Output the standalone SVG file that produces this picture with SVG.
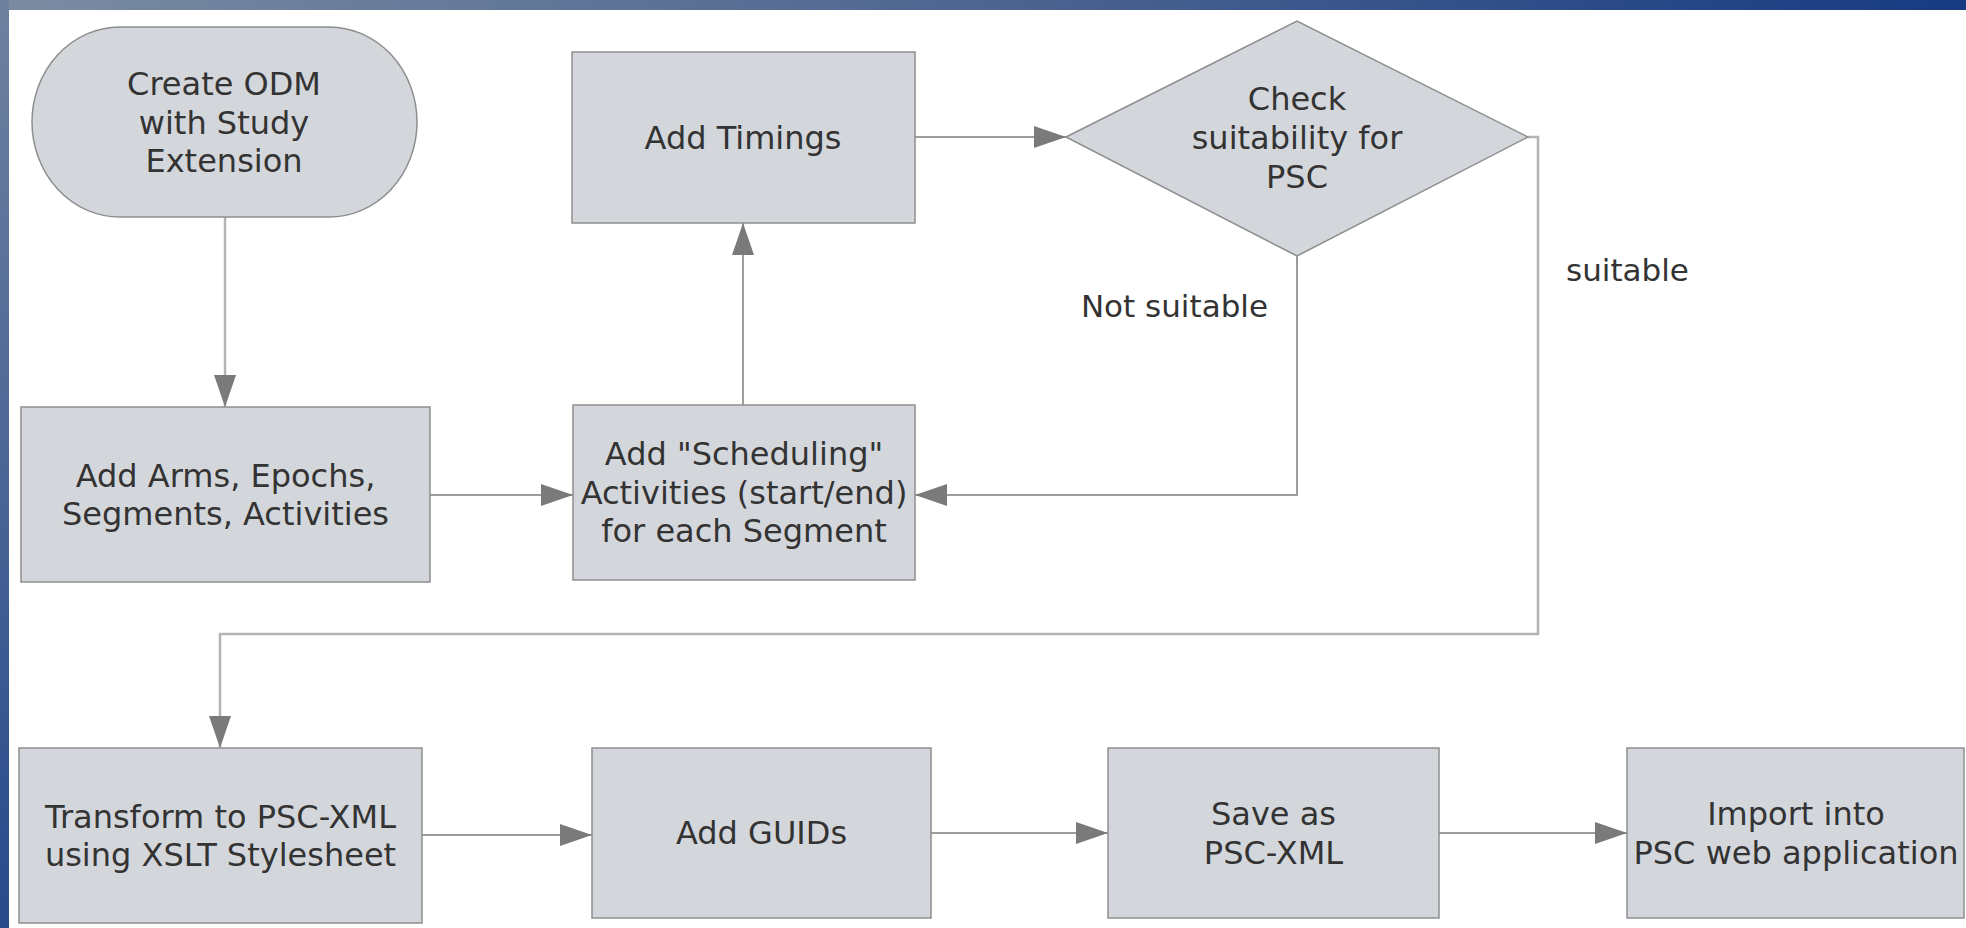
<svg xmlns="http://www.w3.org/2000/svg" width="1966" height="928" viewBox="0 0 1966 928">
  <defs>
    <linearGradient id="topband" x1="0" y1="0" x2="1" y2="0">
      <stop offset="0" stop-color="#7b8ba2"/>
      <stop offset="0.5" stop-color="#4d6590"/>
      <stop offset="1" stop-color="#173a82"/>
    </linearGradient>
    <linearGradient id="leftband" x1="0" y1="0" x2="0" y2="1">
      <stop offset="0" stop-color="#6f819f"/>
      <stop offset="1" stop-color="#274a8c"/>
    </linearGradient>
    <marker id="arrow" markerUnits="userSpaceOnUse" markerWidth="32" markerHeight="24" refX="32" refY="12" orient="auto">
      <path d="M0,1 L32,12 L0,23 z" fill="#7a7a7a"/>
    </marker>
    <style>
      .node { fill: #d3d7dc; stroke: #8e8e8e; stroke-width: 1.5; }
      .label { font-family: "DejaVu Sans", Verdana, sans-serif; font-size: 32px; fill: #333333; text-anchor: middle; }
      .edge { fill: none; stroke: #9c9c9c; stroke-width: 2; }
      .edge-light { fill: none; stroke: #b4b4b4; stroke-width: 2.5; }
      .elabel { font-family: "DejaVu Sans", Verdana, sans-serif; font-size: 31px; fill: #333333; }
    </style>
  </defs>

  <rect x="0" y="0" width="1966" height="928" fill="#ffffff"/>
  <rect x="0" y="0" width="1966" height="10" fill="url(#topband)"/>
  <rect x="0" y="0" width="9" height="928" fill="url(#leftband)"/>

  <g id="connectors">
    <path class="edge-light" d="M225,216 L225,407" marker-end="url(#arrow)"/>
    <path class="edge" d="M430,495 L573,495" marker-end="url(#arrow)"/>
    <path class="edge" d="M743,405 L743,223" marker-end="url(#arrow)"/>
    <path class="edge" d="M915,137 L1066,137" marker-end="url(#arrow)"/>
    <path class="edge" d="M1297,256 L1297,495 L915,495" marker-end="url(#arrow)"/>
    <path class="edge-light" d="M1528,137 L1538,137 L1538,634 L220,634 L220,748" marker-end="url(#arrow)"/>
    <path class="edge" d="M422,835 L592,835" marker-end="url(#arrow)"/>
    <path class="edge" d="M931,833 L1108,833" marker-end="url(#arrow)"/>
    <path class="edge" d="M1439,833 L1627,833" marker-end="url(#arrow)"/>
    <text class="elabel" x="1268" y="317" text-anchor="end">Not suitable</text>
    <text class="elabel" x="1566" y="281">suitable</text>
  </g>

  <g id="start">
    <rect class="node" x="32" y="27" width="385" height="190" rx="88" ry="95"/>
    <text class="label" x="224" y="95">Create ODM</text>
    <text class="label" x="224" y="133.5">with Study</text>
    <text class="label" x="224" y="172">Extension</text>
  </g>

  <g id="add-arms">
    <rect class="node" x="21" y="407" width="409" height="175"/>
    <text class="label" x="225.5" y="486.5">Add Arms, Epochs,</text>
    <text class="label" x="225.5" y="525">Segments, Activities</text>
  </g>

  <g id="scheduling">
    <rect class="node" x="573" y="405" width="342" height="175"/>
    <text class="label" x="744" y="465">Add "Scheduling"</text>
    <text class="label" x="744" y="503.5">Activities (start/end)</text>
    <text class="label" x="744" y="542">for each Segment</text>
  </g>

  <g id="add-timings">
    <rect class="node" x="572" y="52" width="343" height="171"/>
    <text class="label" x="743" y="148.5">Add Timings</text>
  </g>

  <g id="check">
    <polygon class="node" points="1066,137 1297,21 1528,137 1297,256"/>
    <text class="label" x="1297" y="110">Check</text>
    <text class="label" x="1297" y="149">suitability for</text>
    <text class="label" x="1297" y="187.5">PSC</text>
  </g>

  <g id="transform">
    <rect class="node" x="19" y="748" width="403" height="175"/>
    <text class="label" x="220.5" y="827.5">Transform to PSC-XML</text>
    <text class="label" x="220.5" y="866">using XSLT Stylesheet</text>
  </g>

  <g id="add-guids">
    <rect class="node" x="592" y="748" width="339" height="170"/>
    <text class="label" x="761.5" y="844">Add GUIDs</text>
  </g>

  <g id="save">
    <rect class="node" x="1108" y="748" width="331" height="170"/>
    <text class="label" x="1273.5" y="825">Save as</text>
    <text class="label" x="1273.5" y="863.5">PSC-XML</text>
  </g>

  <g id="import">
    <rect class="node" x="1627" y="748" width="337" height="170"/>
    <text class="label" x="1796" y="825">Import into</text>
    <text class="label" x="1796" y="863.5">PSC web application</text>
  </g>
</svg>
